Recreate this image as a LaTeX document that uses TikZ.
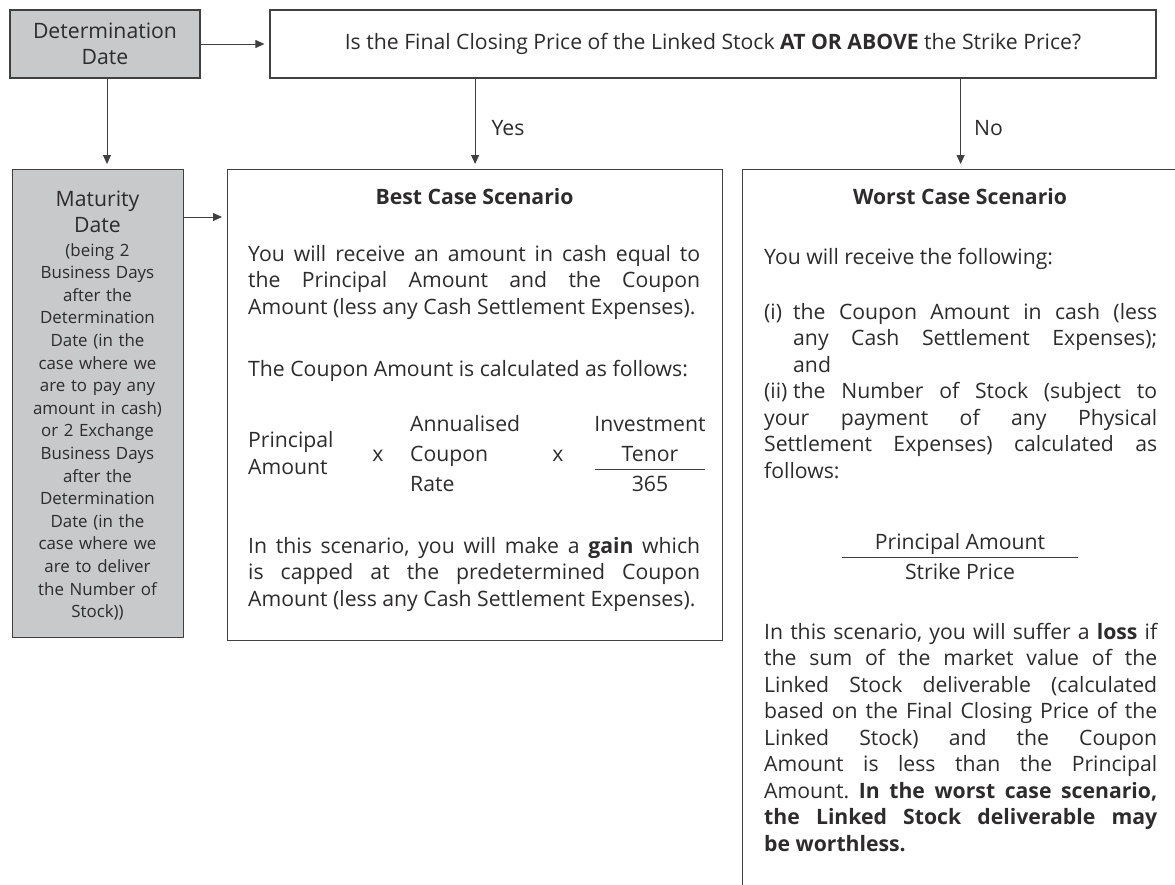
\documentclass[tikz,border=0pt]{standalone}
\usepackage{fontspec}
\setmainfont{Open Sans}
\usetikzlibrary{positioning,arrows.meta}
\definecolor{datefill}{RGB}{200,201,203}
\definecolor{ink}{RGB}{45,43,43}
\definecolor{edge}{RGB}{64,64,64}
\setlength{\parindent}{0pt}
\frenchspacing
\newcommand{\bodysize}{\fontsize{21.2}{26.5}\selectfont}
\newcommand{\smallsize}{\fontsize{16.9}{22.6}\selectfont}

\begin{document}
\begin{tikzpicture}[x=1pt,y=-1pt,
    box/.style={draw=edge,line width=1.2pt,inner sep=0pt},
    datebox/.style={box,fill=datefill},
    body/.style={inner sep=0pt,anchor=base west,text=ink,font=\bodysize},
    para/.style={body,text width=#1,align=justify},
    mid/.style={body,anchor=base,text width=#1,align=center},
    flow/.style={draw=edge,line width=1pt,shorten >=5pt,-{Triangle[length=9pt,width=8pt]}}]
  \useasboundingbox (0,0) rectangle (1175,884);
  \clip (0,0) rectangle (1175,884);

  % top row
  \node[datebox,text=ink,font=\bodysize,align=center,minimum width=190pt,minimum height=68pt] (detdate) at (105,44) {Determination\\Date};
  \node[box,text=ink,font=\bodysize,minimum width=886pt,minimum height=68pt] (question) at (713,44)
    {Is the Final Closing Price of the Linked Stock \textbf{AT OR ABOVE} the Strike Price?};

  % bottom row
  \node[datebox,minimum width=171pt,minimum height=468pt,anchor=north west] (maturity) at (12,169) {};
  \node[box,minimum width=495pt,minimum height=471pt,anchor=north west] (best) at (227,169) {};
  \node[box,minimum width=436pt,minimum height=760pt,anchor=north west] (worst) at (742,169) {};

  % maturity text
  \node[mid=165pt] (matname) at (97.5,206) {Maturity\\Date};
  \node[mid=165pt,font=\smallsize] (matnote) at (97.5,256)
    {(being 2\\Business Days\\after the\\Determination\\Date (in the\\case where we\\are to pay any\\amount in cash)\\or 2 Exchange\\Business Days\\after the\\Determination\\Date (in the\\case where we\\are to deliver\\the Number of\\Stock))};

  % best case
  \node[body,anchor=base] (besttitle) at (474.5,204) {\bfseries Best Case Scenario};
  \node[para=452pt] (bestcash) at (248,261)
    {You will receive an amount in cash equal to\linebreak the Principal Amount and the Coupon\linebreak Amount (less any Cash Settlement Expenses).};
  \node[para=452pt] (bestcalc) at (248,376) {The Coupon Amount is calculated as follows:};
  \node[para=100pt,font=\fontsize{21.2}{27}\selectfont] (fprincipal) at (248,447) {Principal\\Amount};
  \node[body,anchor=base] (ftimesa) at (378,461) {x};
  \node[para=120pt,font=\fontsize{21.2}{30}\selectfont] (frate) at (410,431) {Annualised\\Coupon\\Rate};
  \node[body,anchor=base] (ftimesb) at (558,461) {x};
  \node[mid=112pt,font=\fontsize{21.2}{30}\selectfont] (ftenor) at (650,431) {Investment\\Tenor};
  \node[body,anchor=base] (fdays) at (650,491) {365};
  \draw[edge,line width=1pt] (595,469) -- (705,469);
  \node[para=452pt] (bestgain) at (248,553)
    {In this scenario, you will make a \textbf{gain} which\linebreak is capped at the predetermined Coupon\linebreak Amount (less any Cash Settlement Expenses).};

  % worst case
  \node[body,anchor=base] (worsttitle) at (960,204) {\bfseries Worst Case Scenario};
  \node[para=393pt] (worstget) at (764,264) {You will receive the following:};
  \node[para=393pt] (worstlist) at (764,319)
    {\hangindent=29pt\hangafter=1\makebox[29pt][l]{(i)}the Coupon Amount in cash (less\linebreak any Cash Settlement Expenses);\linebreak and\par
     \hangindent=29pt\hangafter=1\makebox[29pt][l]{(ii)}the Number of Stock (subject to\linebreak your payment of any Physical\linebreak Settlement Expenses) calculated as\linebreak follows:};
  \node[body,anchor=base] (wprincipal) at (960,549) {Principal Amount};
  \draw[edge,line width=1pt] (842,557) -- (1078,557);
  \node[body,anchor=base] (wstrike) at (960,579) {Strike Price};
  \node[para=393pt] (worstloss) at (764,639)
    {In this scenario, you will suffer a \textbf{loss} if\linebreak the sum of the market value of the\linebreak Linked Stock deliverable (calculated\linebreak based on the Final Closing Price of the\linebreak Linked Stock) and the Coupon\linebreak Amount is less than the Principal\linebreak Amount. \textbf{In the worst case scenario,\linebreak the Linked Stock deliverable may\linebreak be worthless.}};

  % connectors
  \draw[flow] (detdate) -- (question);
  \draw[flow] ([xshift=2pt]detdate.south) -- ([xshift=2pt]detdate.south |- maturity.north);
  \draw[flow] (question.south -| best.north) -- node[body,anchor=west,pos=0.55,xshift=16pt] (yes) {Yes} (best.north);
  \draw[flow] (question.south -| worst.north) -- node[body,anchor=west,pos=0.55,xshift=13pt] (no) {No} (worst.north);
  \draw[flow] ([yshift=-48pt]maturity.north east) -- ([yshift=-48pt]maturity.north east -| best.west);
\end{tikzpicture}
\end{document}
